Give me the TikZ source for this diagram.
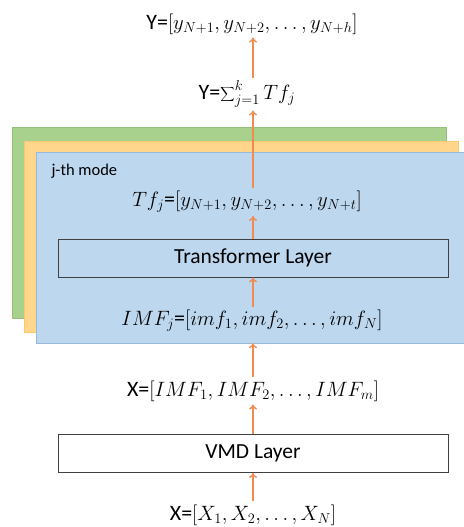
\documentclass[tikz,border=0pt]{standalone}
\usepackage{fontspec}
\setmainfont{Carlito}
\usetikzlibrary{arrows.meta}

\definecolor{modeGreen}{RGB}{169,209,142}
\definecolor{modeGreenLine}{RGB}{150,190,125}
\definecolor{modeYellow}{RGB}{255,214,140}
\definecolor{modeYellowLine}{RGB}{250,200,110}
\definecolor{modeBlue}{RGB}{189,215,238}
\definecolor{modeBlueLine}{RGB}{150,185,220}
\definecolor{flowOrange}{RGB}{240,140,80}

\begin{document}
\begin{tikzpicture}[x=1pt, y=-1pt,
    vmdPanel/.style={draw, rectangle, minimum width=434pt, minimum height=191pt, inner sep=0pt},
    vmdBlock/.style={draw=black!75, line width=0.8pt, minimum width=390pt, minimum height=38pt, inner sep=0pt, font=\fontsize{21.5}{24}\selectfont},
    vmdText/.style={inner sep=3pt, font=\fontsize{22}{24}\selectfont},
    vmdArrow/.style={-{To[length=5pt, width=8pt]}, draw=flowOrange, line width=1.4pt}]

    \useasboundingbox (0,0) rectangle (463,527);

    % Stacked modes
    \node[vmdPanel, fill=modeGreen, draw=modeGreenLine] (greenP) at (229,222.5) {};
    \node[vmdPanel, fill=modeYellow, draw=modeYellowLine] (yellowP) at (241.5,236.5) {};
    \node[vmdPanel, fill=modeBlue, draw=modeBlueLine, minimum width=440pt] (blueP) at (256,247.5) {};
    \node[anchor=west, font=\fontsize{16.5}{18}\selectfont] (modeLbl) at (48,171) {j-th mode};

    % Blocks
    \node[vmdBlock] (transB) at (253,258) {Transformer Layer};
    \node[vmdBlock, fill=white] (vmdB) at (253,453.5) {VMD Layer};

    % Series
    \node[vmdText] (yOut) at (252,24) {Y=$[y_{N+1}, y_{N+2}, \ldots, y_{N+h}]$};
    \node[vmdText] (ySum) at (247,94) {Y=$\displaystyle\sum\nolimits_{j=1}^{k} Tf_j$};
    \node[vmdText] (tfOut) at (247,202) {$Tf_j$=$[y_{N+1}, y_{N+2}, \ldots, y_{N+t}]$};
    \node[vmdText] (imfJ) at (252,321) {$IMF_j$=$[imf_1, imf_2, \ldots, imf_N]$};
    \node[vmdText] (xImf) at (253,391) {X=$[IMF_1,IMF_2,\ldots,IMF_m]$};
    \node[vmdText] (xIn) at (253,515) {X=$[X_1,X_2,\ldots,X_N]$};

    \draw[vmdArrow] (xIn.north -| vmdB) -- (vmdB.south);
    \draw[vmdArrow] (vmdB.north) -- (xImf.south -| vmdB);
    \draw[vmdArrow] (xImf.north -| vmdB) -- (blueP.south -| vmdB);
    \draw[vmdArrow] (imfJ.north -| vmdB) -- (transB.south);
    \draw[vmdArrow] (transB.north) -- (tfOut.south -| vmdB);
    \draw[vmdArrow] (tfOut.north -| vmdB) -- (ySum.south -| vmdB);
    \draw[vmdArrow] (ySum.north -| vmdB) -- (yOut.south -| vmdB);
\end{tikzpicture}
\end{document}
